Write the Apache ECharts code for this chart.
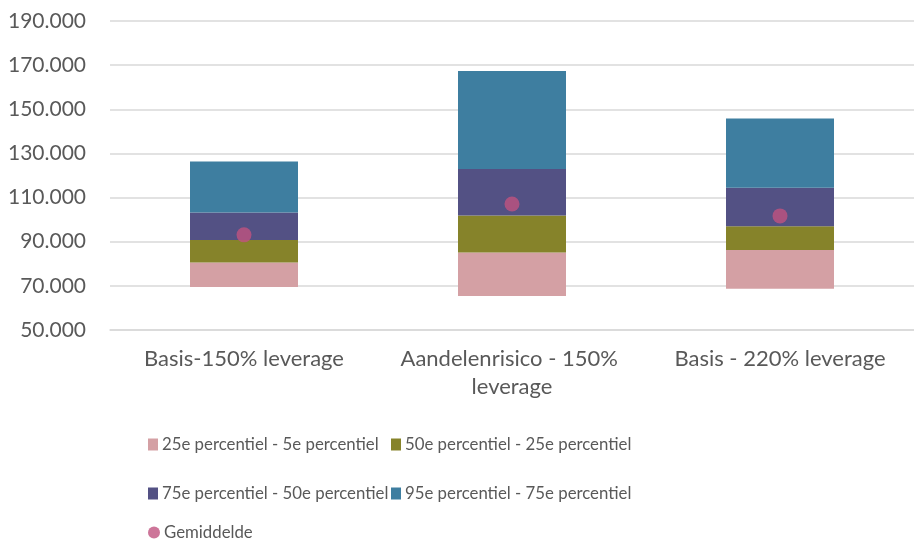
<!DOCTYPE html>
<html>
<head>
<meta charset="utf-8">
<script src="https://cdn.jsdelivr.net/npm/echarts@6/dist/echarts.min.js"></script>
<style>
	html, body { margin: 0; padding: 0; background: #fff; }
	#e1 { width: 914px; height: 545px; }
</style>
</head>
<body>
<div id="e1"></div>
<script>
	// scenario's
	var categories = ['Basis-150% leverage', 'Aandelenrisico - 150% leverage', 'Basis - 220% leverage'];
	var p5 = [69500, 65400, 68700];
	var p25 = [80600, 85100, 86300];
	var p50 = [90800, 101900, 97000];
	var p75 = [103200, 123000, 114500];
	var p95 = [126300, 167300, 145800];
	var gemiddelde = [93100, 107100, 101700];
	var yTicks = [50000, 70000, 90000, 110000, 130000, 150000, 170000, 190000];

	var names = ['25e percentiel - 5e percentiel', '50e percentiel - 25e percentiel',
		'75e percentiel - 50e percentiel', '95e percentiel - 75e percentiel', 'Gemiddelde'];
	var colors = ['#d4a0a4', '#86832a', '#535184', '#3e7ea0', '#c15280'];
	var textColor = '#595959';
	var font = 'Lato';

	function diff(a, b) {
		var out = [];
		for (var i = 0; i < a.length; i++) {
			out.push(a[i] - b[i]);
		}
		return out;
	}
	function fmt(v) {
		return String(v / 1000) + '.000';
	}

	var e1 = echarts.init(document.getElementById('e1'));

	// legenda in twee kolommen
	var legendPos = [[148, 436], [391, 436], [148, 485], [391, 485], [148, 524]];
	var legends = [];
	for (var k = 0; k < names.length; k++) {
		legends.push({
			data: [names[k]],
			left: legendPos[k][0],
			top: legendPos[k][1],
			padding: 0,
			itemWidth: k == 4 ? 12 : 10,
			itemHeight: 12,
			icon: k == 4 ? 'circle' : 'rect',
			selectedMode: false,
			textStyle: { color: textColor, fontSize: 16.8, fontFamily: font, padding: [0, 0, 0, -1] }
		});
	}

	var stackParts = [p5, diff(p25, p5), diff(p50, p25), diff(p75, p50), diff(p95, p75)];
	var series = [{
		name: 'basis',
		type: 'bar',
		stack: 'p',
		barWidth: 108,
		silent: true,
		itemStyle: { color: 'transparent' },
		data: stackParts[0]
	}];
	for (var j = 1; j < stackParts.length; j++) {
		series.push({
			name: names[j - 1],
			type: 'bar',
			stack: 'p',
			barWidth: 108,
			itemStyle: { color: colors[j - 1] },
			data: stackParts[j]
		});
	}
	series.push({
		name: names[4],
		type: 'scatter',
		symbol: 'circle',
		symbolSize: 15,
		itemStyle: { color: colors[4] },
		z: 5,
		data: gemiddelde
	});

	var option = {
		animation: false,
		textStyle: { fontFamily: font },
		legend: legends,
		grid: { left: 110, right: -8, top: 21, bottom: 215 },
		xAxis: {
			type: 'category',
			data: categories,
			axisLine: { show: true, lineStyle: { color: '#d9d9d9', width: 1.5 } },
			axisTick: { show: false },
			axisLabel: {
				color: textColor,
				fontSize: 22,
				fontFamily: font,
				margin: 15,
				lineHeight: 28,
				width: 250,
				overflow: 'break',
				interval: 0
			}
		},
		yAxis: {
			type: 'value',
			min: 50000,
			max: 190000,
			axisLine: { show: false },
			axisTick: { show: false, customValues: yTicks },
			axisLabel: {
				customValues: yTicks,
				color: textColor,
				fontSize: 21,
				fontFamily: font,
				margin: 24,
				formatter: fmt
			},
			splitLine: { show: true, lineStyle: { color: '#d9d9d9', width: 1.5 } }
		},
		series: series
	};
	e1.setOption(option);
</script>
</body>
</html>
